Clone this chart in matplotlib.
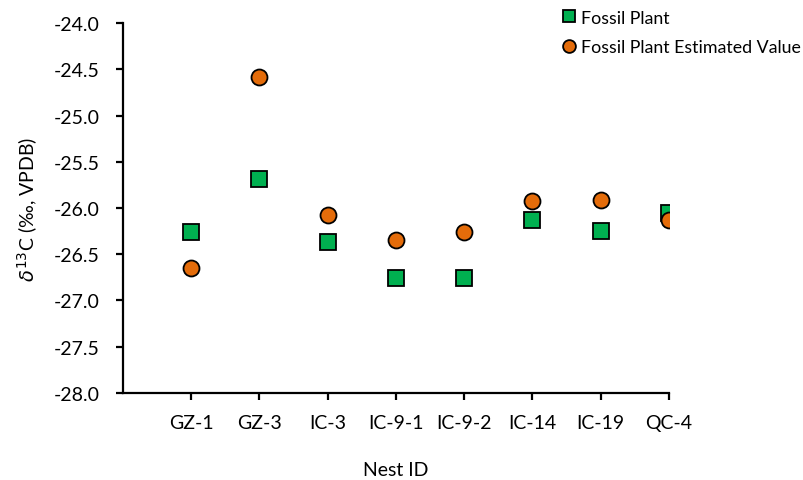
import matplotlib.pyplot as plt

# Nest IDs and carbon isotope values (per mil, VPDB)
nests = ["GZ-1", "GZ-3", "IC-3", "IC-9-1", "IC-9-2", "IC-14", "IC-19", "QC-4"]
fossil_plant = [-26.26, -25.69, -26.37, -26.76, -26.76, -26.13, -26.25, -26.05]
fossil_estimated = [-26.65, -24.58, -26.08, -26.35, -26.26, -25.92, -25.91, -26.13]

plt.rcParams["font.family"] = ["Lato", "DejaVu Sans"]

fig = plt.figure(figsize=(8.04, 4.81), dpi=100)
ax = fig.add_axes([0.153, 0.181, 0.679, 0.769])

x = list(range(1, len(nests) + 1))
ax.plot(x, fossil_plant, linestyle="none", marker="s", markersize=11,
        markerfacecolor="#00B050", markeredgecolor="black", markeredgewidth=1.3,
        label="Fossil Plant", zorder=3)
ax.plot(x, fossil_estimated, linestyle="none", marker="o", markersize=11.5,
        markerfacecolor="#E46C0A", markeredgecolor="black", markeredgewidth=1.3,
        label="Fossil Plant Estimated Value", zorder=4)

ax.set_xlim(0, len(nests))
ax.set_xticks(x)
ax.set_xticklabels(nests)
ax.set_ylim(-28, -24)
ax.set_yticks([-28 + 0.5 * i for i in range(9)])
ax.set_yticklabels([f"{-28 + 0.5 * i:.1f}" for i in range(9)])

for side in ["top", "right"]:
    ax.spines[side].set_visible(False)
for side in ["left", "bottom"]:
    ax.spines[side].set_linewidth(1.6)
ax.tick_params(axis="both", direction="out", length=5, width=1.6, labelsize=14)
ax.tick_params(axis="y", pad=12)
ax.tick_params(axis="x", pad=10)

ax.set_xlabel("Nest ID", fontsize=14, labelpad=22)
ax.set_ylabel(r"$\delta^{13}$C (‰, VPDB)", fontsize=14, labelpad=10)

ax.legend(loc="upper left", bbox_to_anchor=(0.686, 1.0), bbox_transform=fig.transFigure,
          frameon=False, fontsize=12.8, handletextpad=0.25, handlelength=0.8,
          markerscale=0.8, labelspacing=0.75, borderaxespad=0.2)

fig.savefig("out.png", dpi=100)
